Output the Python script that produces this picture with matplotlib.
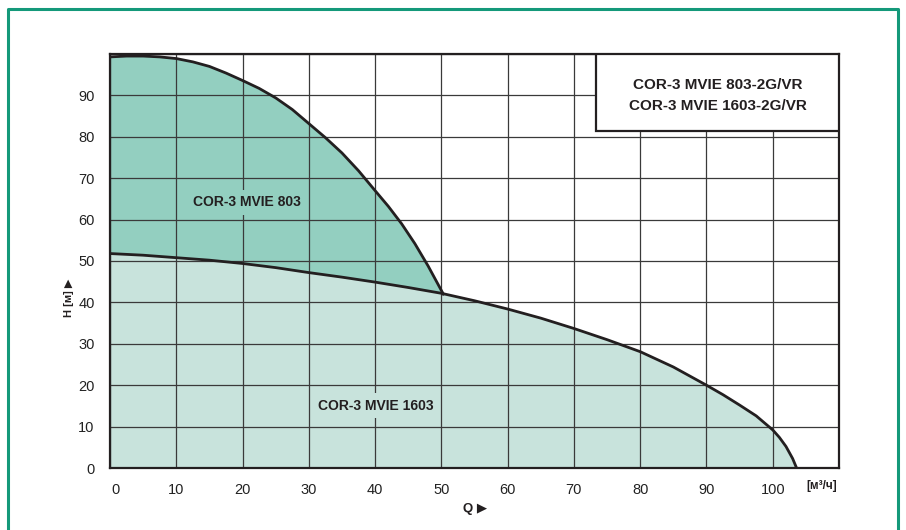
import matplotlib
matplotlib.use("Agg")
import matplotlib.pyplot as plt
from matplotlib.patches import Rectangle
from matplotlib.lines import Line2D
from matplotlib.transforms import ScaledTranslation

plt.rcParams['font.family'] = ['Liberation Sans', 'DejaVu Sans']

# values
q_803 = [0, 2.5, 5, 7.5, 10, 12.5, 15, 17.5, 20, 22.5, 25, 27.5, 30, 32.5, 35,
         37.5, 40, 42, 44, 46, 48, 50.3]
h_803 = [99.3, 99.5, 99.5, 99.3, 98.9, 98.1, 97.0, 95.4, 93.6, 91.7, 89.4, 86.6,
         83.2, 79.8, 76.1, 71.8, 67.0, 63.2, 59.0, 54.2, 48.8, 42.0]

q_1603 = [0, 5, 10, 15, 20, 25, 30, 35, 40, 45, 50, 55, 60, 65, 70, 75, 80, 85,
          90, 92.5, 95, 97.5, 100, 101, 102, 103, 103.6]
h_1603 = [51.8, 51.4, 50.8, 50.2, 49.4, 48.4, 47.2, 46.1, 44.9, 43.6, 42.2, 40.4,
          38.4, 36.2, 33.7, 31.0, 28.1, 24.4, 20.0, 17.7, 15.2, 12.6, 9.2, 7.4,
          5.2, 2.3, 0.0]

x_ticks = [0, 10, 20, 30, 40, 50, 60, 70, 80, 90, 100]
y_ticks = [0, 10, 20, 30, 40, 50, 60, 70, 80, 90]
title_lines = ["COR-3 MVIE 803-2G/VR", "COR-3 MVIE 1603-2G/VR"]

DARK = '#231f20'
FILL_803 = '#93cfc0'
FILL_1603 = '#c8e3dc'
FRAME = '#14997a'

W, H = 906, 530
fig = plt.figure(figsize=(W / 100, H / 100), dpi=100)
ax = fig.add_axes([110 / W, (H - 468) / H, (839 - 110) / W, (468 - 54) / H])

# filled regions
ax.fill(q_1603 + [0], h_1603 + [0], color=FILL_1603, lw=0, zorder=1)
q_low = [q for q in q_1603 if q <= 50.3]
h_low = h_1603[:len(q_low)]
ax.fill(q_803 + q_low[::-1], h_803 + h_low[::-1], color=FILL_803, lw=0, zorder=1)

ax.plot(q_803, h_803, color=DARK, lw=2.0, solid_joinstyle='round', zorder=3)
ax.plot(q_1603, h_1603, color=DARK, lw=2.0, solid_joinstyle='round', zorder=3)

ax.set_xlim(0, 110)
ax.set_ylim(0, 100)
ax.set_xticks(range(0, 111, 10))
ax.set_xticklabels([str(t) for t in x_ticks] + [''])
ax.set_yticks(range(0, 101, 10))
ax.set_yticklabels([str(t) for t in y_ticks] + [''])
ax.grid(True, color='#3a3a3a', lw=0.9)
ax.tick_params(length=0, labelsize=10.5, labelcolor='#222222')
ax.tick_params(axis='x', pad=11)
ax.tick_params(axis='y', pad=11)
for s in ax.spines.values():
    s.set_color(DARK)
    s.set_linewidth(1.6)

# the "0" on the x axis sits a little right of its grid line
lbl0 = ax.get_xticklabels()[0]
lbl0.set_transform(lbl0.get_transform() + ScaledTranslation(6 / 100, 0, fig.dpi_scale_trans))

# curve labels
ax.text(20.6, 64.2, "COR-3 MVIE 803", ha='center', va='center', fontsize=10,
        fontweight='bold', color=DARK, zorder=4,
        bbox=dict(facecolor=FILL_803, edgecolor='none', pad=4))
ax.text(40.1, 15.0, "COR-3 MVIE 1603", ha='center', va='center', fontsize=10,
        fontweight='bold', color=DARK, zorder=4,
        bbox=dict(facecolor=FILL_1603, edgecolor='none', pad=4))

# title box in the upper right corner
bx0 = (596 - 110) / (839 - 110)
by0 = (468 - 131) / (468 - 54)
ax.add_patch(Rectangle((bx0, by0), 1 - bx0, 1 - by0, transform=ax.transAxes,
                       facecolor='white', edgecolor=DARK, lw=1.6, zorder=5))
ax.text((bx0 + 1) / 2, (468 - 85) / 414, title_lines[0], transform=ax.transAxes,
        ha='center', va='center', fontsize=11, fontweight='bold', color=DARK, zorder=6)
ax.text((bx0 + 1) / 2, (468 - 105.5) / 414, title_lines[1], transform=ax.transAxes,
        ha='center', va='center', fontsize=11, fontweight='bold', color=DARK, zorder=6)

# axis labels
fig.text(69 / W, 1 - 298 / H, "H [м] ▶", rotation=90, ha='center', va='center',
         fontsize=8, fontweight='bold', color=DARK)
fig.text(475 / W, 1 - 509 / H, "Q ▶", ha='center', va='center',
         fontsize=9.5, fontweight='bold', color=DARK)
fig.text(822 / W, 1 - 486 / H, "[м³/ч]", ha='center', va='center',
         fontsize=8.5, fontweight='bold', color=DARK)

# green frame, open at the bottom
fig.add_artist(Line2D([8 / W, 8 / W, 898 / W, 898 / W],
                      [0, 1 - 9 / H, 1 - 9 / H, 0],
                      transform=fig.transFigure, color=FRAME, lw=2.2))

fig.savefig("out.png", dpi=100)
